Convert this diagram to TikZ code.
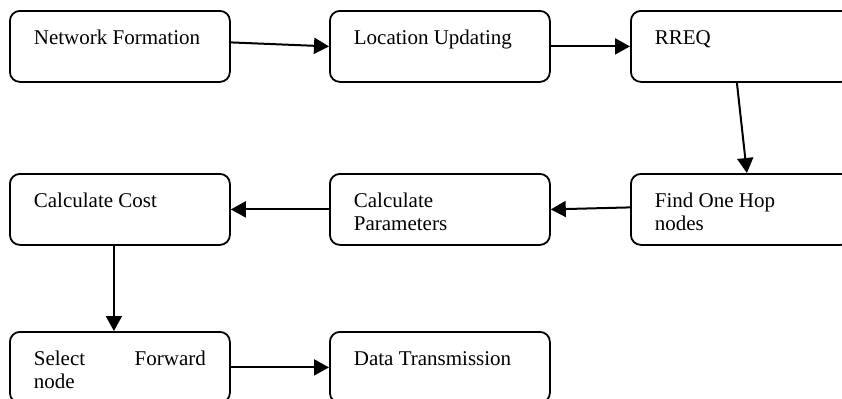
\documentclass[tikz,border=0pt]{standalone}
\usepackage{fontspec}
\setmainfont{Liberation Serif}
\usetikzlibrary{arrows.meta}
\tikzstyle{arrow} = [-{Triangle[length=7.5pt,width=8pt]},line width=1pt]
\tikzstyle{stepbox} = [draw,line width=0.9pt,rounded corners=5pt,anchor=north west,text width=86pt,inner xsep=12pt,inner ysep=0pt,text height=17pt,text depth=18.5pt,align=flush left,font=\fontsize{10.5}{11.5}\selectfont]

\begin{document}
\hyphenpenalty=10000
\begin{tikzpicture}[x=0.5pt,y=-0.5pt]
      \useasboundingbox(0,0)rectangle(842,398);
      \clip(0,0)rectangle(842,398);
      % first row
      \node[stepbox](nf)at(9,10){Network Formation};
      \node[stepbox](lu)at(329,10){Location Updating};
      \node[stepbox](rq)at(630,10){RREQ};
      % second row
      \node[stepbox](cc)at(9,173){Calculate Cost};
      \node[stepbox](cp)at(329,173){Calculate Parameters};
      \node[stepbox](fo)at(630,173){Find One Hop nodes};
      % third row
      \node[stepbox,align=justify](sf)at(9,331){Select Forward\linebreak node};
      \node[stepbox](dt)at(329,331){Data Transmission};
      \draw[arrow]([yshift=2pt]nf.east)--(lu.west);
      \draw[arrow](lu.east)--(rq.west);
      \draw[arrow]([xshift=-2pt]rq.south)--([xshift=3pt]fo.north);
      \draw[arrow]([yshift=1pt]fo.west)--(cp.east);
      \draw[arrow](cp.west)--(cc.east);
      \draw[arrow]([xshift=-3pt]cc.south)--([xshift=-3pt]sf.north);
      \draw[arrow](sf.east)--(dt.west);
    \end{tikzpicture}
\end{document}
